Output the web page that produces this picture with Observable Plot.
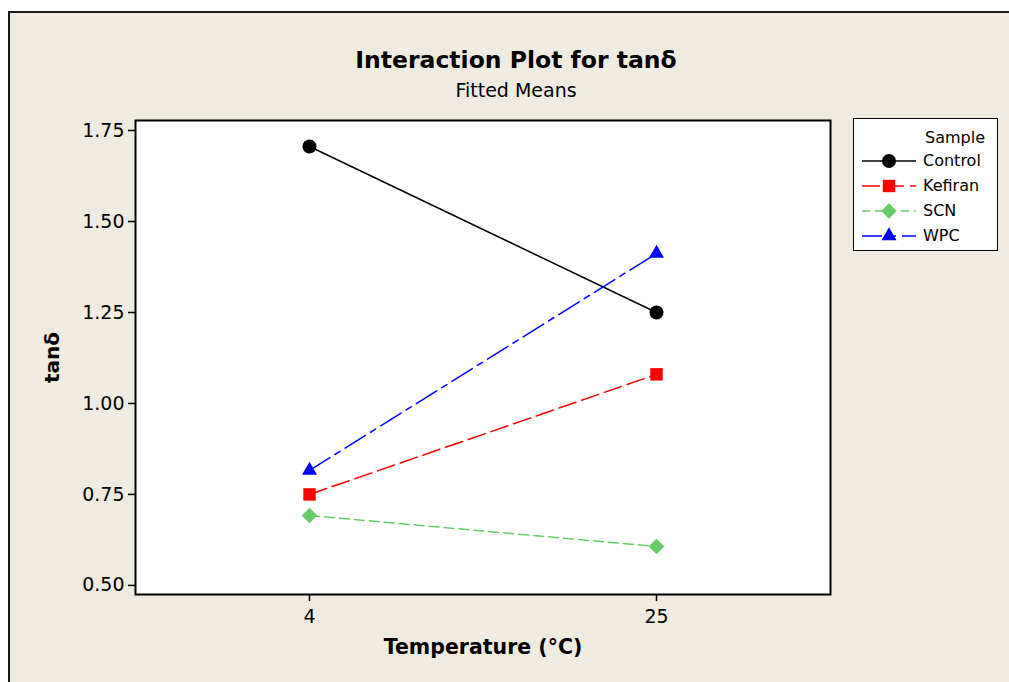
<!DOCTYPE html>
<html>
<head>
<meta charset="utf-8">
<script src="https://cdn.jsdelivr.net/npm/d3@7"></script>
<script src="https://cdn.jsdelivr.net/npm/@observablehq/plot@0.6"></script>
<style>
  html, body { margin: 0; padding: 0; background: #ffffff; overflow: hidden; }
  body { width: 1009px; height: 682px; position: relative;
         font-family: "DejaVu Sans", sans-serif; }
  #bg { position: absolute; left: 8px; top: 11px; width: 999px; height: 671px;
        background: #efebe1; border-left: 2px solid #1a1a1a; border-top: 2px solid #1a1a1a; }
  #chart { position: absolute; left: 0; top: 0; }
  #legend { position: absolute; left: 853px; top: 118px; width: 145px; height: 133px;
            background: #ffffff; border: 1.5px solid #000; box-sizing: border-box; }
  #legend .hdr { position: absolute; left: 71px; top: 9px; font-size: 16px; color: #000; }
  #legend .row { position: absolute; left: 0; height: 22px; width: 143px; }
  #legend .row svg { position: absolute; left: 6px; top: 0; }
  #legend .row span { position: absolute; left: 69px; top: 1px; font-size: 16px; color: #000; }
</style>
</head>
<body>
<div id="bg"></div>
<div id="chart"></div>
<div id="legend"></div>
<script>
// ---- data ----
const temps = ["4", "25"];
const samples = ["Control", "Kefiran", "SCN", "WPC"];
const control = [1.706, 1.250];
const kefiran = [0.750, 1.080];
const scn = [0.692, 0.607];
const wpc = [0.816, 1.412];
const yTicks = [0.50, 0.75, 1.00, 1.25, 1.50, 1.75];

// ---- styles ----
const seriesValues = [control, kefiran, scn, wpc];
const colors = ["#000000", "#ff0000", "#66cc66", "#0000ff"];
const dashes = [null, "18,6", "10,5", "24,6,6,6"];
const legendDashes = [null, "18,6", "8,5", "20,8,6,6"];
const symbols = ["circle", "square", "diamond2", "triangle"];
const radii = [7, 7, 7, 5.6];

const rows = [];
samples.forEach((s, i) => temps.forEach((t, j) => rows.push({sample: s, temp: t, value: seriesValues[i][j]})));

const marks = [Plot.frame({fill: "white", stroke: "none"})];
samples.forEach((s, i) => {
  const d = rows.filter(r => r.sample === s);
  marks.push(Plot.line(d, {x: "temp", y: "value", stroke: colors[i], strokeWidth: 1.5,
    strokeDasharray: dashes[i] || undefined}));
});
samples.forEach((s, i) => {
  const d = rows.filter(r => r.sample === s);
  marks.push(Plot.dot(d, {x: "temp", y: "value", fill: colors[i], stroke: "none",
    symbol: () => symbols[i], r: radii[i]}));
});
marks.push(Plot.frame({stroke: "#000", strokeWidth: 2}));
marks.push(Plot.axisY({ticks: yTicks, tickFormat: d3.format(".2f"), tickSize: 7, tickPadding: 4,
  label: null, fontSize: 19, strokeWidth: 1.5}));
marks.push(Plot.axisX({tickSize: 7, tickPadding: 8, label: null, fontSize: 19, strokeWidth: 1.5}));
marks.push(Plot.text(["tanδ"], {frameAnchor: "left", dx: -83, rotate: -90, textAnchor: "middle", lineAnchor: "middle", fontWeight: "bold", fontSize: 20, fill: "#000"}));
marks.push(Plot.text(["Temperature (°C)"], {frameAnchor: "bottom", dy: 53, lineAnchor: "middle", fontWeight: "bold", fontSize: 20.5, fill: "#000"}));
marks.push(Plot.text(["Interaction Plot for tanδ"], {frameAnchor: "top", dx: 33, dy: -60, lineAnchor: "middle", fontWeight: "bold", fontSize: 23.5, fill: "#000"}));
marks.push(Plot.text(["Fitted Means"], {frameAnchor: "top", dx: 33, dy: -30, lineAnchor: "middle", fontSize: 19, fill: "#000"}));

const chart = Plot.plot({
  width: 1009, height: 682,
  marginLeft: 135, marginRight: 179, marginTop: 120, marginBottom: 88,
  style: {background: "transparent", fontFamily: "'DejaVu Sans', sans-serif", color: "#000", overflow: "visible"},
  x: {type: "point", domain: temps, padding: 0.5},
  y: {domain: [0.475, 1.7775]},
  marks
});
document.getElementById("chart").appendChild(chart);

// ---- legend ----
const legend = document.getElementById("legend");
legend.innerHTML = '<div class="hdr">Sample</div>';
const symTypes = [d3.symbolCircle, d3.symbolSquare, d3.symbolDiamond2, d3.symbolTriangle];
samples.forEach((s, i) => {
  const row = document.createElement("div");
  row.className = "row";
  row.style.top = (31 + i * 25) + "px";
  const sym = d3.symbol(symTypes[i], Math.PI * radii[i] * radii[i])();
  row.innerHTML = `<svg width="60" height="22"><line x1="2" x2="56" y1="11" y2="11" stroke="${colors[i]}" stroke-width="1.5" ${legendDashes[i] ? `stroke-dasharray="${legendDashes[i]}"` : ''}/><path d="${sym}" transform="translate(29,11)" fill="${colors[i]}"/></svg><span>${s}</span>`;
  legend.appendChild(row);
});
</script>
</body>
</html>
